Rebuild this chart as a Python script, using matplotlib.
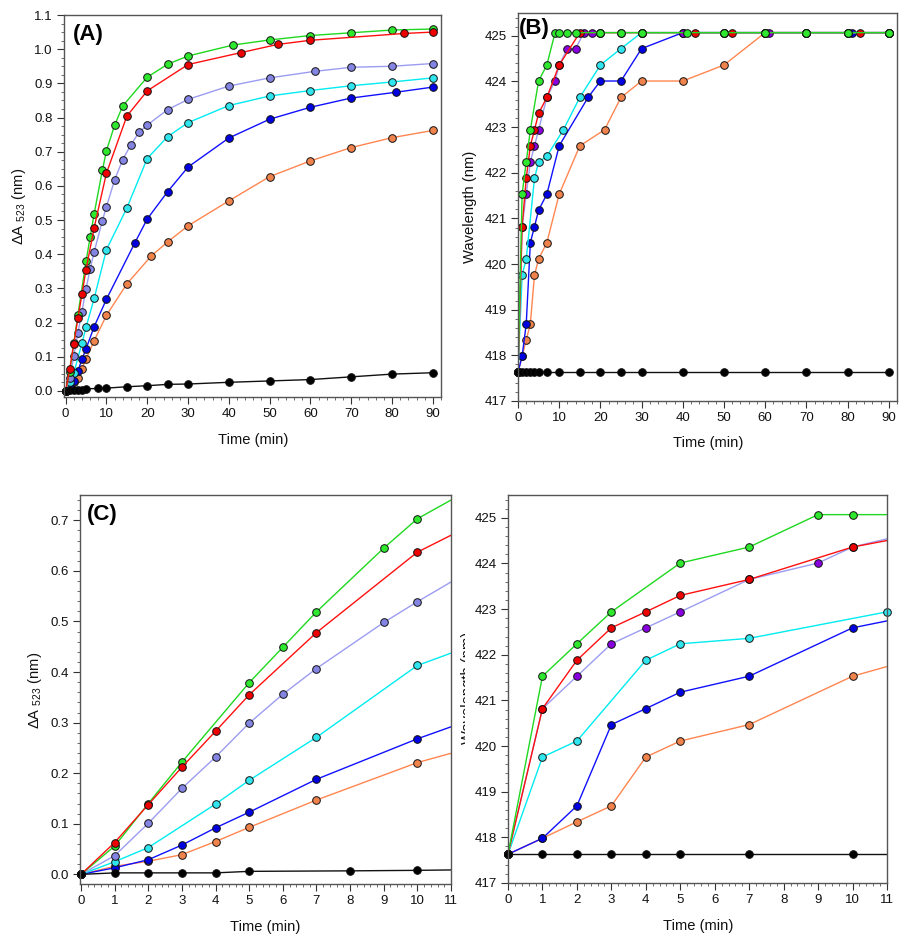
import matplotlib
matplotlib.use("Agg")
import matplotlib.pyplot as plt
from matplotlib.ticker import MultipleLocator, FormatStrFormatter
from matplotlib.transforms import Bbox, TransformedBbox

plt.rcParams["font.family"] = ["Liberation Sans", "DejaVu Sans"]
plt.rcParams["mathtext.fontset"] = "custom"
plt.rcParams["mathtext.rm"] = "Liberation Sans"

# ---- absorbance data, panels (A) and (C) ----
t_black_a = [0, 1, 2, 3, 4, 5, 8, 10, 15, 20, 25, 30, 40, 50, 60, 70, 80, 90]
a_black = [0, 0.003, 0.003, 0.003, 0.003, 0.006, 0.007, 0.008, 0.012, 0.015, 0.019, 0.020,
           0.025, 0.029, 0.033, 0.041, 0.049, 0.053]
t_orange_a = [0, 1, 2, 3, 4, 5, 7, 10, 15, 21, 25, 30, 40, 50, 60, 70, 80, 90]
a_orange = [0, 0.016, 0.026, 0.039, 0.065, 0.093, 0.147, 0.221, 0.313, 0.395, 0.436, 0.483,
            0.556, 0.627, 0.673, 0.712, 0.741, 0.762]
t_blue_a = [0, 1, 2, 3, 4, 5, 7, 10, 17, 20, 25, 30, 40, 50, 60, 70, 81, 90]
a_blue = [0, 0.013, 0.029, 0.058, 0.092, 0.123, 0.188, 0.268, 0.434, 0.503, 0.583, 0.655,
          0.740, 0.795, 0.830, 0.857, 0.874, 0.889]
t_cyan_a = [0, 1, 2, 4, 5, 7, 10, 15, 20, 25, 30, 40, 50, 60, 70, 80, 90]
a_cyan = [0, 0.025, 0.053, 0.139, 0.186, 0.271, 0.413, 0.535, 0.680, 0.744, 0.785, 0.835,
          0.863, 0.879, 0.893, 0.904, 0.916]
t_lav_a = [0, 1, 2, 3, 4, 5, 6, 7, 9, 10, 12, 14, 16, 18, 20, 25, 30, 40, 50, 61, 70, 80, 90]
a_lav = [0, 0.037, 0.101, 0.170, 0.232, 0.299, 0.356, 0.407, 0.498, 0.539, 0.617, 0.677,
         0.720, 0.757, 0.778, 0.823, 0.853, 0.892, 0.916, 0.935, 0.947, 0.950, 0.958]
t_green_a = [0, 1, 2, 3, 5, 6, 7, 9, 10, 12, 14, 20, 25, 30, 41, 50, 60, 70, 80, 90]
a_green = [0, 0.056, 0.140, 0.222, 0.379, 0.449, 0.519, 0.645, 0.703, 0.777, 0.834, 0.918,
           0.956, 0.980, 1.012, 1.027, 1.040, 1.048, 1.056, 1.059]
t_red_a = [0, 1, 2, 3, 4, 5, 7, 10, 15, 20, 30, 43, 52, 60, 83, 90]
a_red = [0, 0.063, 0.138, 0.212, 0.283, 0.355, 0.478, 0.637, 0.804, 0.878, 0.955, 0.990,
         1.014, 1.026, 1.046, 1.050]

# ---- wavelength data, panels (B) and (D) ----
t_black_b = [0, 1, 2, 3, 4, 5, 7, 10, 15, 20, 25, 30, 40, 50, 60, 70, 80, 90]
w_black = [417.63] * 18
t_orange_b = [0, 1, 2, 3, 4, 5, 7, 10, 15, 21, 25, 30, 40, 50, 60, 70, 80, 90]
w_orange = [417.63, 417.98, 418.34, 418.69, 419.76, 420.11, 420.47, 421.53, 422.59, 422.94,
            423.65, 424.01, 424.01, 424.36, 425.07, 425.07, 425.07, 425.07]
t_blue_b = [0, 1, 2, 3, 4, 5, 7, 10, 17, 20, 25, 30, 40, 50, 60, 70, 81, 90]
w_blue = [417.63, 417.98, 418.69, 420.47, 420.82, 421.18, 421.53, 422.59, 423.65, 424.01,
          424.01, 424.72, 425.07, 425.07, 425.07, 425.07, 425.07, 425.07]
t_cyan_b = [0, 1, 2, 4, 5, 7, 11, 15, 20, 25, 30, 40, 50, 60, 70, 80, 90]
w_cyan = [417.63, 419.76, 420.11, 421.88, 422.24, 422.36, 422.94, 423.65, 424.36, 424.72,
          425.07, 425.07, 425.07, 425.07, 425.07, 425.07, 425.07]
t_purple_b = [0, 1, 2, 3, 4, 5, 7, 9, 10, 12, 14, 16, 18, 20, 25, 30, 40, 50, 61, 70, 80, 90]
w_purple = [417.63, 420.82, 421.53, 422.24, 422.59, 422.94, 423.65, 424.01, 424.36, 424.72,
            424.72, 425.07, 425.07, 425.07, 425.07, 425.07, 425.07, 425.07, 425.07, 425.07,
            425.07, 425.07]
t_red_b = [0, 1, 2, 3, 4, 5, 7, 10, 15, 20, 30, 43, 52, 60, 83, 90]
w_red = [417.63, 420.82, 421.88, 422.59, 422.94, 423.30, 423.65, 424.36, 425.07, 425.07,
         425.07, 425.07, 425.07, 425.07, 425.07, 425.07]
t_green_b = [0, 1, 2, 3, 5, 7, 9, 10, 12, 14, 20, 25, 30, 41, 50, 60, 70, 80, 90]
w_green = [417.63, 421.53, 422.24, 422.94, 424.01, 424.36, 425.07, 425.07, 425.07, 425.07,
           425.07, 425.07, 425.07, 425.07, 425.07, 425.07, 425.07, 425.07, 425.07]

# (line colour, marker colour) per series
GREEN = ("#1fd81f", "#2ee82e")
RED = ("#ff1010", "#ee0000")
LAV = ("#9c9cf2", "#8484e2")
PURPLE = ("#9c9cf2", "#8800e0")
CYAN = ("#00ecf0", "#30e6ee")
BLUE = ("#1010ff", "#0000e0")
ORANGE = ("#ff8650", "#f0824c")
BLACK = ("#111111", "#000000")

series_abs = [
    (t_orange_a, a_orange, ORANGE), (t_blue_a, a_blue, BLUE), (t_cyan_a, a_cyan, CYAN),
    (t_lav_a, a_lav, LAV), (t_green_a, a_green, GREEN), (t_red_a, a_red, RED),
    (t_black_a, a_black, BLACK),
]
series_wl = [
    (t_orange_b, w_orange, ORANGE), (t_blue_b, w_blue, BLUE), (t_cyan_b, w_cyan, CYAN),
    (t_purple_b, w_purple, PURPLE), (t_red_b, w_red, RED), (t_green_b, w_green, GREEN),
    (t_black_b, w_black, BLACK),
]

W, H = 906, 941
fig = plt.figure(figsize=(W / 100, H / 100), dpi=100)


def px_axes(l, t, r, b):
    return fig.add_axes([l / W, 1 - b / H, (r - l) / W, (b - t) / H])


def draw(ax, series, xmax):
    for t, v, (lc, mc) in series:
        ax.plot(t, v, '-', color=lc, lw=1.0)
        keep = [(x, y) for x, y in zip(t, v) if x <= xmax]
        ax.plot([k[0] for k in keep], [k[1] for k in keep], 'o', ms=5.5, mfc=mc, mec='#111111',
                mew=0.7, clip_on=False)


def style(ax, xmaj, xmin, ymaj, ymin, yfmt):
    ax.xaxis.set_major_locator(MultipleLocator(xmaj))
    ax.xaxis.set_minor_locator(MultipleLocator(xmin))
    ax.yaxis.set_major_locator(MultipleLocator(ymaj))
    ax.yaxis.set_minor_locator(MultipleLocator(ymin))
    ax.yaxis.set_major_formatter(FormatStrFormatter(yfmt))
    ax.tick_params(which='major', direction='out', length=5, width=0.8, labelsize=9.5,
                   color='#333333', labelcolor='#111111', pad=3)
    ax.tick_params(which='minor', direction='out', length=2.5, width=0.6, color='#555555')
    for s in ax.spines.values():
        s.set_color('#555555')
        s.set_linewidth(1.0)


LBL = dict(fontsize=10.6, ha='center', va='center', color='#111111')
ylab_abs = 'ΔA $_{523}$ (nm)'

# (A)
ax = px_axes(64, 15, 441, 397)
draw(ax, series_abs, 92)
ax.set_xlim(-0.4, 92)
ax.set_ylim(-0.018, 1.1)
style(ax, 10, 2, 0.1, 0.025, '%.1f')
ax.text(0.024, 0.948, '(A)', transform=ax.transAxes, fontsize=16, fontweight='bold',
        ha='left', va='center')
fig.text(19 / W, 1 - 206 / H, ylab_abs, rotation=90, **LBL)
fig.text(253 / W, 1 - 440 / H, 'Time (min)', **LBL)

# (B)
ax = px_axes(518, 13, 897, 401)
draw(ax, series_wl, 92)
ax.set_xlim(0, 92)
ax.set_ylim(417, 425.5)
style(ax, 10, 2, 1, 0.2, '%d')
ax.text(0.003, 0.959, '(B)', transform=ax.transAxes, fontsize=16, fontweight='bold',
        ha='left', va='center')
fig.text(470 / W, 1 - 207 / H, 'Wavelength (nm)', rotation=90, **LBL)
fig.text(708 / W, 1 - 443 / H, 'Time (min)', **LBL)

# (C)
ax = px_axes(80, 495, 451, 884)
draw(ax, series_abs, 11)
ax.set_xlim(-0.03, 11)
ax.set_ylim(-0.019, 0.75)
style(ax, 1, 0.2, 0.1, 0.02, '%.1f')
ax.text(0.019, 0.949, '(C)', transform=ax.transAxes, fontsize=16, fontweight='bold',
        ha='left', va='center')
fig.text(35 / W, 1 - 690 / H, ylab_abs, rotation=90, **LBL)
fig.text(265 / W, 1 - 927 / H, 'Time (min)', **LBL)

# (D)
ax = px_axes(508, 495, 887, 883)
draw(ax, series_wl, 11)
ax.set_xlim(0, 11)
ax.set_ylim(417, 425.5)
style(ax, 1, 0.2, 1, 0.2, '%d')
fig.text(698 / W, 1 - 926 / H, 'Time (min)', **LBL)
# the y label of (D) is mostly hidden in the original, only its left edge shows
dl = fig.text(468 / W, 1 - 688 / H, 'Wavelength (nm)', rotation=90, **LBL)
dl.set_clip_box(TransformedBbox(Bbox.from_extents(455 / W, 0, 465 / W, 1), fig.transFigure))
dl.set_clip_on(True)

fig.savefig('out.png', dpi=100)
